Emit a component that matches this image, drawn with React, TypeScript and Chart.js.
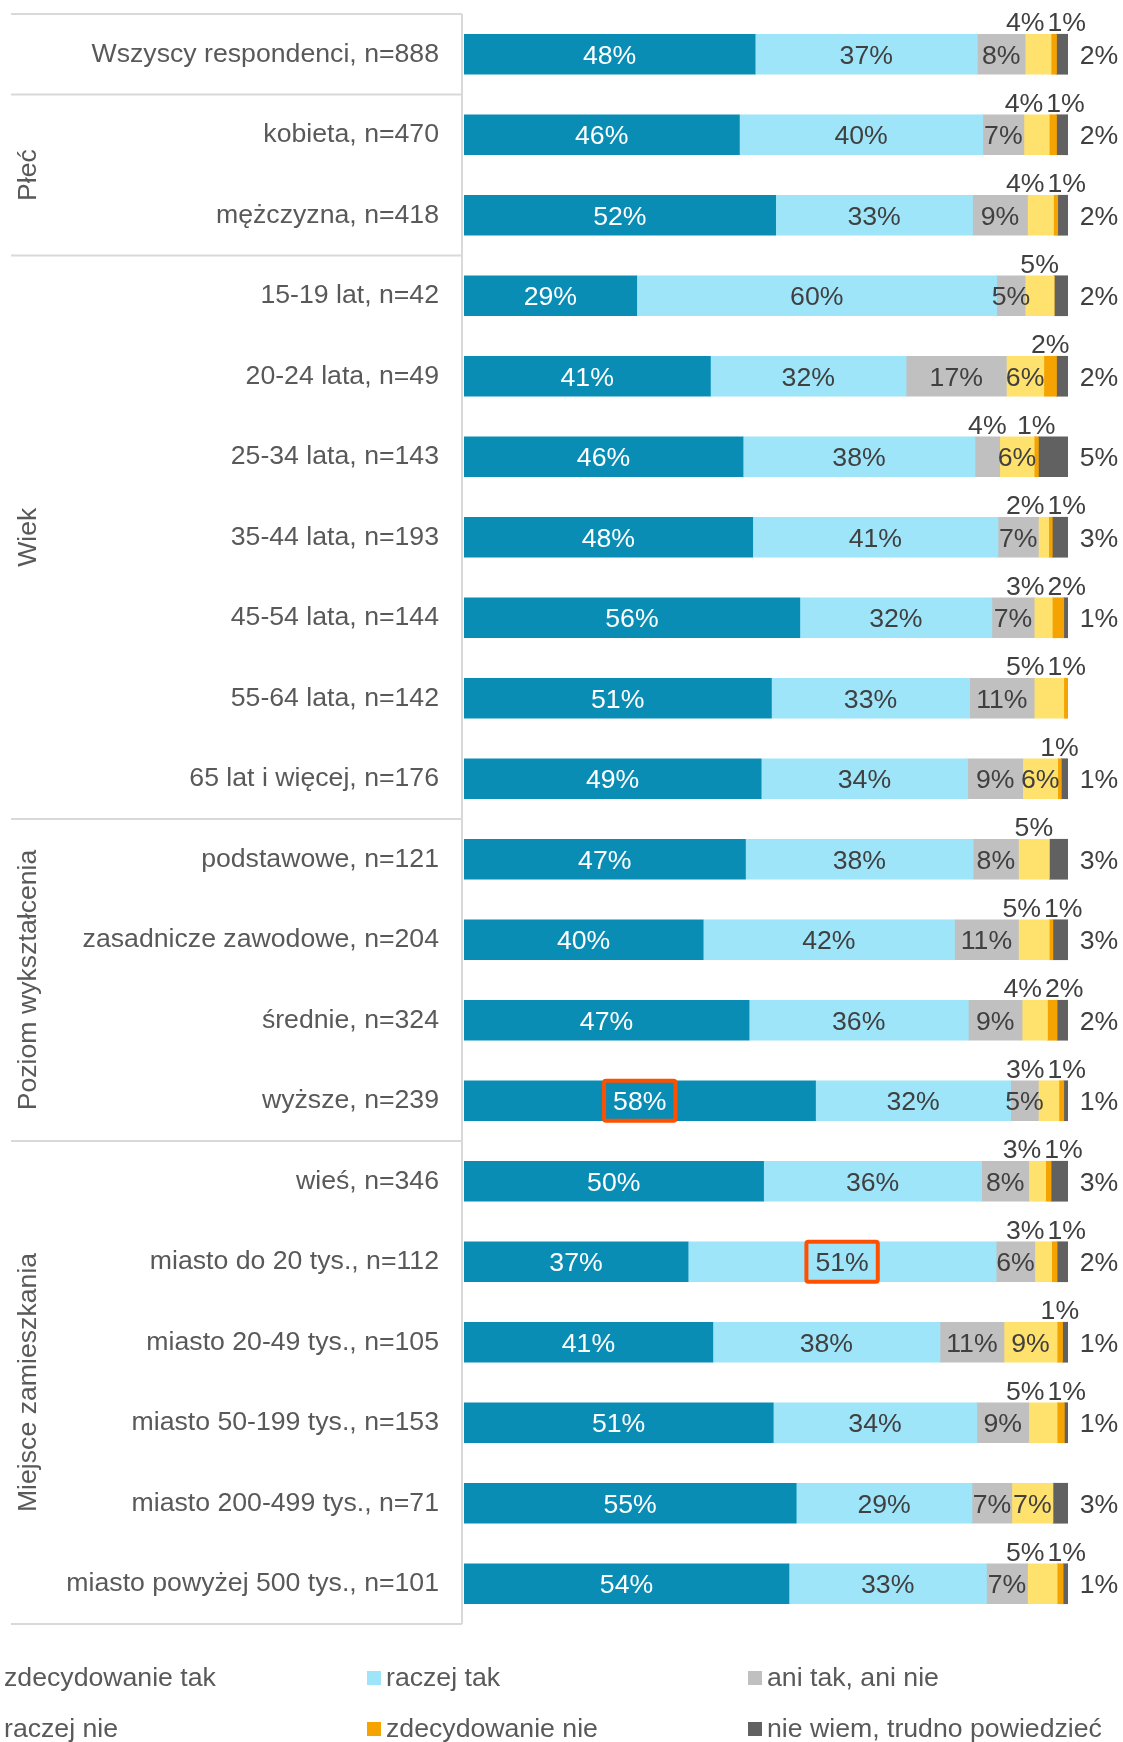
import React, { useEffect, useRef } from 'react';
import { Chart, registerables } from 'chart.js';

Chart.register(...registerables);

const categories = [
  'Wszyscy respondenci, n=888',
  'kobieta, n=470',
  'mężczyzna, n=418',
  '15-19 lat, n=42',
  '20-24 lata, n=49',
  '25-34 lata, n=143',
  '35-44 lata, n=193',
  '45-54 lata, n=144',
  '55-64 lata, n=142',
  '65 lat i więcej, n=176',
  'podstawowe, n=121',
  'zasadnicze zawodowe, n=204',
  'średnie, n=324',
  'wyższe, n=239',
  'wieś, n=346',
  'miasto do 20 tys., n=112',
  'miasto 20-49 tys., n=105',
  'miasto 50-199 tys., n=153',
  'miasto 200-499 tys., n=71',
  'miasto powyżej 500 tys., n=101',
];

const seriesNames = [
  'zdecydowanie tak',
  'raczej tak',
  'ani tak, ani nie',
  'raczej nie',
  'zdecydowanie nie',
  'nie wiem, trudno powiedzieć',
];

const zdecydowanieTak = [48.2, 45.6, 51.6, 28.6, 40.8, 46.2, 47.8, 55.6, 50.9, 49.2, 46.6, 39.6, 47.2, 58.2, 49.6, 37.1, 41.2, 51.2, 55.0, 53.8];
const raczejTak = [36.8, 40.3, 32.6, 59.6, 32.4, 38.4, 40.6, 31.8, 32.8, 34.2, 37.7, 41.6, 36.3, 32.3, 36.1, 51.0, 37.6, 33.7, 29.1, 32.7];
const aniTakAniNie = [7.9, 6.8, 9.1, 4.7, 16.6, 4.1, 6.7, 7.0, 10.7, 9.1, 7.5, 10.6, 8.9, 4.6, 7.8, 6.4, 10.6, 8.6, 6.6, 6.8];
const raczejNie = [4.3, 4.2, 4.3, 4.8, 6.2, 5.7, 1.7, 3.0, 4.9, 5.8, 5.1, 5.1, 4.2, 3.4, 2.8, 2.8, 8.8, 4.7, 6.8, 4.9];
const zdecydowanieNie = [0.9, 1.2, 0.7, 0, 2.1, 0.7, 0.6, 1.9, 0.7, 0.6, 0, 0.6, 1.6, 0.8, 0.9, 0.9, 0.9, 1.2, 0, 1.0];
const nieWiem = [1.9, 1.9, 1.7, 2.3, 1.9, 4.9, 2.6, 0.7, 0, 1.1, 3.1, 2.5, 1.8, 0.7, 2.8, 1.8, 0.9, 0.6, 2.5, 0.8];

const seriesValues = [zdecydowanieTak, raczejTak, aniTakAniNie, raczejNie, zdecydowanieNie, nieWiem];
const seriesColors = ['#0A8DB5', '#9EE5FA', '#C0C0C0', '#FFE16E', '#F5A300', '#616161'];

const groupNames = ['', 'Płeć', 'Wiek', 'Poziom wykształcenia', 'Miejsce zamieszkania'];
const groupStarts = [0, 1, 3, 10, 14];

// highlighted labels: (row, series) pairs
const highlightRows = [13, 15];
const highlightSeries = [0, 1];

const FONT = '"Liberation Sans", Arial, Helvetica, sans-serif';
const TEXT_DARK = '#404040';
const TEXT_LABEL = '#595959';
const LINE = '#D9D9D9';
const FS = 26.67;

const overlayPlugin = {
  id: 'overlay',
  afterDraw(chart: any) {
    const ctx = chart.ctx as CanvasRenderingContext2D;
    const area = chart.chartArea;
    const yScale = chart.scales.y;
    const n = categories.length;
    const step = yScale.getPixelForValue(1) - yScale.getPixelForValue(0);
    const boundary = (r: number) => yScale.getPixelForValue(r) - step / 2;
    const capHalf = (FS * 0.716) / 2;

    ctx.save();
    // ---- left panel lines
    const panelLeft = 11;
    const panelRight = area.left - 2;
    ctx.strokeStyle = LINE;
    ctx.lineWidth = 2;
    ctx.beginPath();
    groupStarts.forEach((s) => {
      const y = boundary(s);
      ctx.moveTo(panelLeft, y);
      ctx.lineTo(panelRight, y);
    });
    ctx.moveTo(panelLeft, boundary(n));
    ctx.lineTo(panelRight, boundary(n));
    ctx.moveTo(panelRight, boundary(0));
    ctx.lineTo(panelRight, boundary(n));
    ctx.stroke();

    // ---- group labels
    ctx.font = `${FS}px ${FONT}`;
    ctx.fillStyle = TEXT_LABEL;
    ctx.textAlign = 'center';
    ctx.textBaseline = 'alphabetic';
    groupNames.forEach((g, k) => {
      if (!g) return;
      const start = groupStarts[k];
      const end = k + 1 < groupStarts.length ? groupStarts[k + 1] : n;
      const cy = (boundary(start) + boundary(end)) / 2;
      ctx.save();
      ctx.translate(26, cy);
      ctx.rotate(-Math.PI / 2);
      ctx.fillText(g, 0, capHalf);
      ctx.restore();
    });

    // ---- data labels
    for (let j = 0; j < n; j++) {
      const above: any[] = [];
      for (let i = 0; i < seriesValues.length; i++) {
        const v = seriesValues[i][j];
        if (!v) continue;
        const el = chart.getDatasetMeta(i).data[j];
        const { x, base, y, height } = el.getProps(['x', 'base', 'y', 'height'], true);
        const text = Math.round(v) + '%';
        const w = ctx.measureText(text).width;
        const cx = (x + base) / 2;
        let mode = 'inside';
        if (i === 2 && v < 4.5) mode = 'above';
        if (i === 3 && v < 5.5) mode = 'above';
        if (i === 4) mode = 'above';
        if (i === 5) mode = 'right';
        if (mode === 'inside') {
          ctx.fillStyle = i === 0 ? '#FFFFFF' : TEXT_DARK;
          ctx.textAlign = 'center';
          ctx.fillText(text, cx, y + capHalf);
          for (let k = 0; k < highlightRows.length; k++) {
            if (highlightRows[k] === j && highlightSeries[k] === i) {
              ctx.save();
              ctx.strokeStyle = '#FF5000';
              ctx.lineWidth = 4;
              ctx.beginPath();
              const bw = w + 18;
              const bh = 40;
              if ((ctx as any).roundRect) (ctx as any).roundRect(cx - bw / 2, y - bh / 2, bw, bh, 2);
              else ctx.rect(cx - bw / 2, y - bh / 2, bw, bh);
              ctx.stroke();
              ctx.restore();
            }
          }
        } else if (mode === 'right') {
          ctx.fillStyle = TEXT_DARK;
          ctx.textAlign = 'center';
          ctx.fillText(text, area.right + 31, y + capHalf);
        } else {
          above.push({ text, w, cx, top: y - height / 2 });
        }
      }
      // resolve overlaps of labels placed above the bar
      above.sort((a, b) => a.cx - b.cx);
      for (let k = 1; k < above.length; k++) {
        const a = above[k - 1];
        const b = above[k];
        const need = a.w / 2 + b.w / 2 + 3;
        const d = b.cx - a.cx;
        if (d < need) {
          const push = (need - d) / 2;
          a.cx -= push;
          b.cx += push;
        }
      }
      if (above.length > 1) {
        const last = above[above.length - 1];
        const limit = area.right + 18;
        const over = last.cx + last.w / 2 - limit;
        if (over > 0) above.forEach((a) => (a.cx -= over));
      }
      ctx.fillStyle = TEXT_DARK;
      ctx.textAlign = 'center';
      above.forEach((a) => ctx.fillText(a.text, a.cx, a.top - 3));
    }

    // ---- legend
    const boxX = [-15, 367, 748];
    const baseY = [1686, 1737];
    ctx.textAlign = 'left';
    seriesNames.forEach((name, i) => {
      const col = i % 3;
      const row = Math.floor(i / 3);
      ctx.fillStyle = seriesColors[i];
      ctx.fillRect(boxX[col], baseY[row] - 15, 14, 14);
      ctx.fillStyle = TEXT_LABEL;
      ctx.fillText(name, boxX[col] + 19, baseY[row]);
    });
    ctx.restore();
  },
};

export default function App() {
  const canvasRef = useRef<HTMLCanvasElement | null>(null);

  useEffect(() => {
    const canvas = canvasRef.current;
    if (!canvas) return;
    const chart = new Chart(canvas, {
      type: 'bar',
      data: {
        labels: categories,
        datasets: seriesNames.map((name, i) => ({
          label: name,
          data: seriesValues[i],
          backgroundColor: seriesColors[i],
          borderWidth: 0,
          barThickness: 40,
        })),
      },
      options: {
        indexAxis: 'y',
        responsive: false,
        animation: false,
        devicePixelRatio: 1,
        layout: { padding: { left: 0, right: 55, top: 14, bottom: 118 } },
        plugins: {
          legend: { display: false },
          tooltip: { enabled: false },
          title: { display: false },
        },
        scales: {
          x: { stacked: true, display: false, min: 0, max: 100 },
          y: {
            stacked: true,
            grid: { display: false, drawTicks: false },
            border: { display: false },
            ticks: {
              autoSkip: false,
              padding: 25,
              color: TEXT_LABEL,
              font: { family: FONT, size: FS },
            },
            afterFit: (scale: any) => {
              scale.width = 464;
              scale.paddingTop = 0;
              scale.paddingBottom = 0;
            },
          },
        },
      },
      plugins: [overlayPlugin],
    });
    return () => chart.destroy();
  }, []);

  return (
    <div style={{ position: 'absolute', left: 0, top: 0, width: 1123, height: 1742, background: '#fff' }}>
      <canvas ref={canvasRef} width={1123} height={1742} style={{ width: 1123, height: 1742, display: 'block' }} />
    </div>
  );
}
